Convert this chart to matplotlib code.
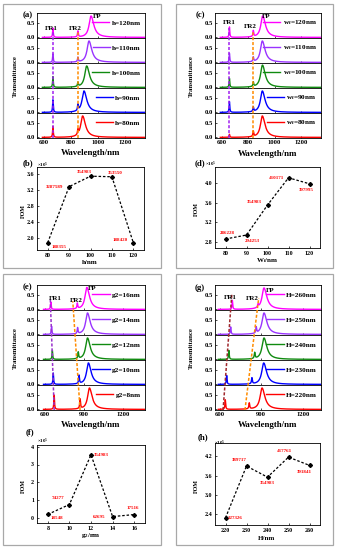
import numpy as np
import matplotlib.pyplot as plt
from matplotlib.patches import Rectangle

W, H = 338, 550

plt.rcParams['font.family'] = ['Liberation Serif', 'DejaVu Serif']
plt.rcParams['font.weight'] = 'bold'
plt.rcParams['mathtext.fontset'] = 'custom'
plt.rcParams['mathtext.rm'] = 'Liberation Serif:bold'
plt.rcParams['mathtext.bf'] = 'Liberation Serif:bold'
plt.rcParams['mathtext.it'] = 'Liberation Serif:italic:bold'
plt.rcParams['mathtext.default'] = 'bf'
plt.rcParams['axes.linewidth'] = 0.6

colors = ['#ff00ff', '#9933ff', '#108a10', '#0000ff', '#ff0000']

# ---- spectra data: (peak wavelength, peak transmittance), top panel first ----
a_labels = ['h=120nm', 'h=110nm', 'h=100nm', 'h=90nm', 'h=80nm']
a_fr1 = [(668, 0.31), (668, 0.28), (668, 0.36), (668, 0.42), (668, 0.36)]
a_fr2 = [(853, 0.20), (853, 0.15), (853, 0.14), (853, 0.20), (853, 0.16)]
a_fp = [(950, 0.72), (935, 0.72), (918, 0.72), (898, 0.72), (888, 0.72)]

c_labels = ['w$_f$=120nm', 'w$_f$=110nm', 'w$_f$=100nm', 'w$_f$=90nm', 'w$_f$=80nm']
c_fr1 = [(659, 0.35), (659, 0.30), (659, 0.30), (659, 0.36), (659, 0.10)]
c_fr2 = [(839, 0.20), (839, 0.15), (839, 0.15), (839, 0.15), (839, 0.18)]
c_fp = [(910, 0.72), (907, 0.72), (908, 0.75), (907, 0.72), (907, 0.72)]

e_labels = ['g2=16nm', 'g2=14nm', 'g2=12nm', 'g2=10nm', 'g2=8nm']
e_fr1 = [(646, 0.25), (652, 0.27), (658, 0.30), (665, 0.38), (672, 0.48)]
e_fr2 = [(850, 0.18), (852, 0.20), (857, 0.22), (863, 0.28), (871, 0.32)]
e_fp = [(923, 0.74), (928, 0.72), (928, 0.72), (935, 0.72), (943, 0.72)]

g_labels = ['H=260nm', 'H=250nm', 'H=240nm', 'H=230nm', 'H=220nm']
g_fr1 = [(691, 0.30), (679, 0.25), (666, 0.30), (650, 0.30), (640, 0.32)]
g_fr2 = [(876, 0.10), (863, 0.20), (852, 0.20), (832, 0.20), (813, 0.20)]
g_fp = [(919, 0.72), (919, 0.72), (919, 0.72), (917, 0.72), (905, 0.72)]

# guide lines: wavelength at stack bottom, wavelength at top end
a_guides = [(668, 668), (853, 853)]
c_guides = [(659, 659), (839, 839)]
e_guides = [(672, 642), (871, 815)]
g_guides = [(624, 688), (782, 881)]

# ---- FOM data ----
b_x = [80, 90, 100, 110, 120]
b_fom = [188355, 328758, 354983, 353550, 188420]
b_txt = ['188355', '3287589', '354983', '353550', '188420']

d_x = [80, 90, 100, 110, 120]
d_fom = [286228, 294253, 354983, 410171, 397995]
d_txt = ['286228', '294253', '354983', '410171', '397995']

f_x = [8, 10, 12, 14, 16]
f_fom = [18548, 74277, 354983, 6269.5, 17516]
f_txt = ['18548', '74277', '354983', '62695', '17516']

h_x = [220, 230, 240, 250, 260]
h_fom = [227326, 389717, 354983, 417761, 391841]
h_txt = ['227326', '389717', '354983', '417761', '391841']


def rect(x0, y0, x1, y1):
    return [x0 / W, 1 - y1 / H, (x1 - x0) / W, (y1 - y0) / H]


def ftext(x, y, s, **kw):
    fig.text(x / W, 1 - y / H, s, **kw)


def spectrum(wl, fr1, fr2, fp):
    y = fr1[1] / (1 + ((wl - fr1[0]) / 3.0) ** 2)
    y = y + fr2[1] / (1 + ((wl - fr2[0]) / 3.5) ** 2)
    wfp = np.where(wl < fp[0], 17.0, 25.0)
    return y + fp[1] / (1 + ((wl - fp[0]) / wfp) ** 2)


def draw_stack(x0, x1, y0, xlim, xticks, labels, fr1, fr2, fp,
               guides, gcolors, gtop):
    ylo, yhi = -0.02, 0.82
    ph = 25
    wl = np.linspace(max(xlim[0], 590), xlim[1], 2000)
    for i in range(5):
        ax = fig.add_axes(rect(x0, y0 + i * ph, x1, y0 + (i + 1) * ph))
        ax.plot(wl, spectrum(wl, fr1[i], fr2[i], fp[i]), color=colors[i],
                lw=1.0, label=labels[i])
        ax.set_xlim(xlim)
        ax.set_ylim(ylo, yhi)
        ax.set_yticks([0.0, 0.5])
        ax.set_yticklabels(['0.0', '0.5'])
        ax.set_xticks(xticks)
        ax.tick_params(direction='in', length=1.5, width=0.5, labelsize=4.8, pad=1.5)
        if i < 4:
            ax.tick_params(labelbottom=False)
        ax.legend(loc='center right', bbox_to_anchor=(1.0, 0.62), frameon=False,
                  prop={'size': 5.2, 'weight': 'bold'}, handlelength=2.4,
                  handletextpad=0.3, borderaxespad=0.2)
    ov = fig.add_axes(rect(x0, y0, x1, y0 + 5 * ph))
    ov.set_xlim(xlim)
    ov.set_ylim(0, 5)
    ov.axis('off')
    for g, c, t in zip(guides, gcolors, gtop):
        ov.plot([g[0], g[1]], [0, t], color=c, lw=1.1, ls=(0, (2, 1.2)))


def draw_fom(box, x, fom, txt, offs, xlim, ylim, yticks):
    ax = fig.add_axes(rect(*box))
    ax.plot(x, np.array(fom) / 1e5, color='black', lw=0.9, ls=(0, (2, 1.5)),
            marker='D', ms=2.0)
    ax.set_xlim(xlim)
    ax.set_ylim(ylim)
    ax.set_xticks(x)
    ax.set_yticks(yticks)
    ax.tick_params(direction='in', length=1.5, width=0.5, labelsize=4.3, pad=2)
    for xi, yi, s, (dx, dy, ha, va) in zip(x, fom, txt, offs):
        ax.annotate(s, (xi, yi / 1e5), xytext=(dx, dy), textcoords='offset points',
                    ha=ha, va=va, color='red', fontsize=3.6, fontweight='bold')
    return ax


fig = plt.figure(figsize=(W / 100, H / 100), dpi=100)

# block frames
for bx0, bx1 in [(3, 161), (176, 333)]:
    for by0, by1 in [(4, 268), (274, 545)]:
        fig.add_artist(Rectangle((bx0 / W, 1 - by1 / H), (bx1 - bx0) / W,
                                 (by1 - by0) / H, transform=fig.transFigure,
                                 fill=False, ec='#a8a8a8', lw=0.9))

# spectra stacks
draw_stack(37, 145, 13, (550, 1350), [600, 800, 1000, 1200], a_labels,
           a_fr1, a_fr2, a_fp, a_guides, ['#a020f0', '#ff8c00'], [4.24, 4.24])
draw_stack(215, 321, 13, (550, 1350), [600, 800, 1000, 1200], c_labels,
           c_fr1, c_fr2, c_fp, c_guides, ['#a020f0', '#ff8c00'], [4.4, 4.24])
draw_stack(37, 145, 285, (540, 1370), [600, 900, 1200], e_labels,
           e_fr1, e_fr2, e_fp, e_guides, ['#9932cc', '#ff8c00'], [4.48, 4.35])
draw_stack(215, 321, 285, (566, 1330), [600, 900, 1200], g_labels,
           g_fr1, g_fr2, g_fp, g_guides, ['#a0282d', '#ff8c00'], [4.68, 4.48])

# FOM panels
draw_fom((37, 167, 144, 250), b_x, b_fom, b_txt,
         [(3, -2, 'left', 'top'), (-4, 0, 'right', 'center'),
          (1, 1.5, 'right', 'bottom'), (-3, 1.5, 'left', 'bottom'),
          (-4, 2, 'right', 'center')],
         (75, 125), (1.7, 3.78), [2.0, 2.4, 2.8, 3.2, 3.6])
draw_fom((215, 167, 320, 248), d_x, d_fom, d_txt,
         [(1, 3, 'center', 'bottom'), (-1, -3, 'left', 'top'),
          (-4, 2, 'right', 'center'), (-3, 0, 'right', 'center'),
          (-2, -3, 'center', 'top')],
         (75, 125), (2.68, 4.32), [2.8, 3.2, 3.6, 4.0])
draw_fom((37, 445, 145, 523), f_x, f_fom, f_txt,
         [(2, -1.5, 'left', 'top'), (-4, 3, 'right', 'bottom'),
          (2, 0, 'left', 'center'), (-5, 0, 'right', 'center'),
          (-1, 3, 'center', 'bottom')],
         (7, 17), (-0.3, 4.1), [0, 1, 2, 3, 4])
draw_fom((215, 443, 320, 525), h_x, h_fom, h_txt,
         [(2, 0, 'left', 'center'), (0, 3, 'right', 'bottom'),
          (0, -3, 'center', 'top'), (-3, 3, 'center', 'bottom'),
          (-4, -3, 'center', 'top')],
         (215, 265), (2.05, 4.62), [2.4, 3.0, 3.6, 4.2])

# texts
big = dict(fontsize=6.3, fontweight='bold', ha='center', va='center')
for s, x, y in [('(a)', 27.5, 15), ('(b)', 27.5, 163), ('(c)', 200.5, 15),
                ('(d)', 200, 163), ('(e)', 27.5, 287), ('(f)', 30, 432),
                ('(g)', 199.7, 288), ('(h)', 202.5, 437)]:
    ftext(x, y, s, **big)

for x, y in [(42.5, 165.7), (211, 164), (43, 441), (220, 443)]:
    ftext(x, y, r'$\times10^5$', fontsize=3.6, ha='center', va='center')

small = dict(fontsize=5.0, fontweight='bold', ha='center', va='center')
for x, y in [(51, 28), (229.7, 23), (55.5, 299), (230, 297.7)]:
    ftext(x, y, 'FR1', **small)
for x, y in [(75.5, 28), (250, 27), (76.7, 300), (252.5, 299)]:
    ftext(x, y, 'FR2', **small)
for x, y in [(97, 17), (266, 17), (91.7, 288.3), (270, 290)]:
    ftext(x, y, 'FP', **small)

for x, y in [(15, 76), (191, 76), (15, 348), (191, 348)]:
    ftext(x, y, 'Transmittance', fontsize=4.9, fontweight='bold',
          rotation=90, ha='center', va='center')
for x, y in [(23, 211), (196, 209), (23, 486), (196, 486)]:
    ftext(x, y, 'FOM', fontsize=4.3, fontweight='bold',
          rotation=90, ha='center', va='center')
for x, y in [(91, 153), (268, 154), (91, 425), (268, 425)]:
    ftext(x, y, 'Wavelength/nm', fontsize=6.4, fontweight='bold',
          ha='center', va='center')
for x, y, s in [(90, 262, 'h/nm'), (267, 261, 'W$_f$/nm'),
                (91, 536, 'g$_2$/nm'), (267, 538, 'H/nm')]:
    ftext(x, y, s, fontsize=5.0, fontweight='bold', ha='center', va='center')

fig.savefig('out.png', dpi=100)
